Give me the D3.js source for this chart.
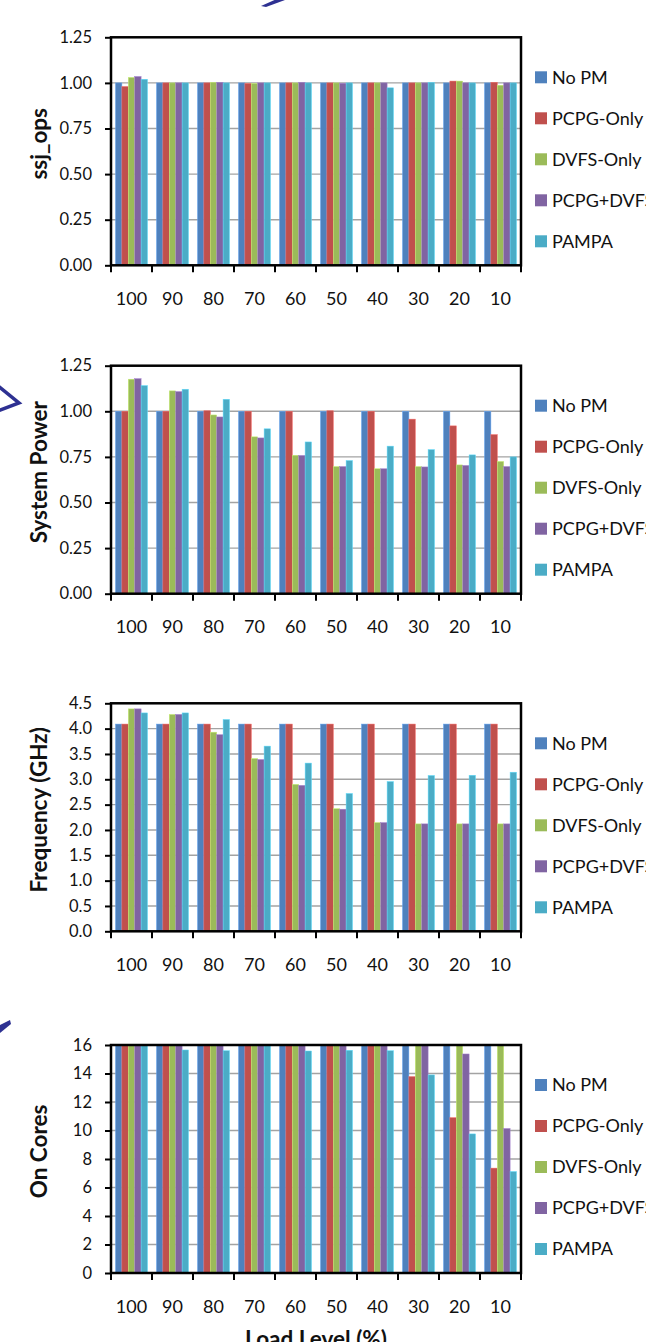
<!DOCTYPE html>
<html>
<head>
<meta charset="utf-8">
<script src="https://cdn.jsdelivr.net/npm/d3@7"></script>
<style>
  body { margin: 0; background: #fff; }
  svg { display: block; }
</style>
</head>
<body>
<div id="chart"></div>
<script>
// categories and series
var loadLevels = ["100", "90", "80", "70", "60", "50", "40", "30", "20", "10"];
var seriesNames = ["No PM", "PCPG-Only", "DVFS-Only", "PCPG+DVFS", "PAMPA"];
var seriesColors = ["#4F81BD", "#C0504D", "#9BBB59", "#8064A2", "#4BACC6"];

// one row per series, one column per load level
var ssjOps = [
	[1.00, 1.00, 1.00, 1.00, 1.00, 1.00, 1.00, 1.00, 1.00, 1.00],
	[0.98, 1.00, 1.00, 0.997, 1.00, 1.00, 1.00, 1.00, 1.01, 1.003],
	[1.03, 1.00, 1.003, 0.997, 1.00, 1.00, 1.00, 1.00, 1.01, 0.987],
	[1.035, 1.00, 1.003, 1.00, 1.003, 0.998, 1.00, 1.00, 1.00, 1.00],
	[1.02, 1.00, 1.00, 1.00, 1.00, 1.00, 0.973, 1.003, 1.00, 1.00]
];
var systemPower = [
	[1.00, 1.00, 1.00, 1.00, 1.00, 1.00, 1.00, 1.00, 1.00, 1.00],
	[1.00, 1.00, 1.003, 1.00, 1.00, 1.003, 1.00, 0.957, 0.92, 0.872],
	[1.176, 1.112, 0.98, 0.86, 0.759, 0.697, 0.685, 0.697, 0.706, 0.725],
	[1.179, 1.108, 0.969, 0.854, 0.758, 0.697, 0.685, 0.695, 0.703, 0.697],
	[1.141, 1.121, 1.066, 0.904, 0.832, 0.73, 0.809, 0.79, 0.761, 0.75]
];
var frequency = [
	[4.09, 4.09, 4.09, 4.09, 4.09, 4.09, 4.09, 4.09, 4.09, 4.09],
	[4.09, 4.09, 4.09, 4.09, 4.09, 4.09, 4.09, 4.09, 4.09, 4.09],
	[4.39, 4.28, 3.93, 3.41, 2.90, 2.42, 2.145, 2.12, 2.12, 2.12],
	[4.39, 4.28, 3.88, 3.39, 2.88, 2.41, 2.145, 2.12, 2.12, 2.12],
	[4.31, 4.31, 4.18, 3.655, 3.32, 2.72, 2.955, 3.075, 3.08, 3.14]
];
var onCores = [
	[16, 16, 16, 16, 16, 16, 16, 16, 16, 16],
	[16, 16, 16, 16, 16, 16, 16, 13.78, 10.9, 7.36],
	[16, 16, 16, 16, 16, 16, 16, 16, 16, 16],
	[16, 16, 16, 16, 16, 16, 16, 16, 15.37, 10.14],
	[16, 15.65, 15.6, 16, 15.58, 15.63, 15.6, 13.9, 9.76, 7.12]
];

var ssjTicks = [0, 0.25, 0.5, 0.75, 1.0, 1.25];
var powerTicks = [0, 0.25, 0.5, 0.75, 1.0, 1.25];
var freqTicks = [0, 0.5, 1.0, 1.5, 2.0, 2.5, 3.0, 3.5, 4.0, 4.5];
var coreTicks = [0, 2, 4, 6, 8, 10, 12, 14, 16];

var panels = [
	{ title: "ssj_ops", values: ssjOps, ticks: ssjTicks, fmt: ".2f", top: 37.3 },
	{ title: "System Power", values: systemPower, ticks: powerTicks, fmt: ".2f", top: 365.7 },
	{ title: "Frequency (GHz)", values: frequency, ticks: freqTicks, fmt: ".1f", top: 703.3 },
	{ title: "On Cores", values: onCores, ticks: coreTicks, fmt: "d", top: 1045 }
];

var W = 646, H = 1342;
var plotLeft = 111, plotRight = 521, plotH = 228;
var font = "Lato, 'Open Sans', sans-serif";

var svg = d3.select("#chart").append("svg")
	.attr("width", W).attr("height", H);

var x0 = d3.scaleBand().domain(loadLevels).range([plotLeft, plotRight]);
var x1 = d3.scaleBand().domain(seriesNames).range([0, x0.bandwidth()]).paddingOuter(0.7);

function drawPanel(p) {
	var top = p.top, bottom = p.top + plotH;
	var y = d3.scaleLinear().domain([0, d3.max(p.ticks)]).range([bottom, top]);
	var g = svg.append("g").attr("class", "panel");

	// grid
	g.append("g").selectAll("line")
		.data(p.ticks.filter(function(t) { return t > 0 && t < d3.max(p.ticks); }))
		.enter().append("line")
		.attr("x1", plotLeft).attr("x2", plotRight)
		.attr("y1", function(d) { return y(d); })
		.attr("y2", function(d) { return y(d); })
		.attr("stroke", "#a3a3a3").attr("stroke-width", 1.4);

	// bars
	var rows = [];
	p.values.forEach(function(vals, s) {
		vals.forEach(function(v, i) {
			rows.push({ level: loadLevels[i], series: seriesNames[s], s: s, value: v });
		});
	});
	g.append("g").selectAll("rect")
		.data(rows).enter().append("rect")
		.attr("x", function(d) { return x0(d.level) + x1(d.series); })
		.attr("y", function(d) { return y(d.value); })
		.attr("width", x1.bandwidth())
		.attr("height", function(d) { return y(0) - y(d.value); })
		.attr("fill", function(d) { return seriesColors[d.s]; })
		.attr("stroke", function(d) { return d3.color(seriesColors[d.s]).brighter(0.7); })
		.attr("stroke-width", 0.5);

	// frame
	g.append("rect")
		.attr("x", plotLeft).attr("y", top)
		.attr("width", plotRight - plotLeft).attr("height", plotH)
		.attr("fill", "none").attr("stroke", "#000").attr("stroke-width", 2.5);

	// y axis
	var yAxis = d3.axisLeft(y).tickValues(p.ticks).tickFormat(d3.format(p.fmt))
		.tickSize(6).tickPadding(13);
	var ya = g.append("g").attr("transform", "translate(" + plotLeft + ",0)").call(yAxis);
	ya.select(".domain").remove();
	ya.selectAll(".tick line").attr("stroke", "#000").attr("stroke-width", 2);
	ya.selectAll("text").attr("font-family", font).attr("font-size", "16.5px").attr("fill", "#111");

	// x axis
	var xAxis = d3.axisBottom(x0).tickSize(0).tickPadding(27);
	var xa = g.append("g").attr("transform", "translate(0," + bottom + ")").call(xAxis);
	xa.select(".domain").remove();
	xa.selectAll("text").attr("font-family", font).attr("font-size", "18px").attr("fill", "#111");
	xa.selectAll("line.sep")
		.data(x0.domain().map(function(d) { return x0(d); }).concat([plotRight]))
		.enter().append("line").attr("class", "sep")
		.attr("x1", function(d) { return d; }).attr("x2", function(d) { return d; })
		.attr("y1", 0).attr("y2", 7)
		.attr("stroke", "#000").attr("stroke-width", 2);

	// y title
	g.append("text")
		.attr("transform", "translate(46.5," + ((top + bottom) / 2 - 7.5) + ") rotate(-90)")
		.attr("text-anchor", "middle")
		.attr("font-family", font).attr("font-weight", "bold").attr("font-size", "22.5px")
		.attr("fill", "#111")
		.text(p.title);

	// legend
	var lg = g.append("g").selectAll("g")
		.data(seriesNames).enter().append("g")
		.attr("transform", function(d, i) { return "translate(535," + (top + 40 + i * 41) + ")"; });
	lg.append("rect")
		.attr("x", 0).attr("y", -6).attr("width", 12).attr("height", 12)
		.attr("fill", function(d, i) { return seriesColors[i]; });
	lg.append("text")
		.attr("x", 17).attr("y", 0).attr("dy", "0.35em")
		.attr("font-family", font).attr("font-size", "18px").attr("fill", "#111")
		.text(function(d) { return d; });
}

panels.forEach(drawPanel);

// x axis title, cut by the bottom edge
svg.append("text")
	.attr("x", (plotLeft + plotRight) / 2).attr("y", 1347)
	.attr("text-anchor", "middle")
	.attr("font-family", font).attr("font-weight", "bold").attr("font-size", "22.5px")
	.attr("fill", "#111")
	.text("Load Level (%)");

// pieces of hand-drawn arrows at the edges
var ink = "#2E3192";
svg.append("path").attr("d", "M261,6 L279,-2 L285,0 L266,7 Z").attr("fill", ink);
svg.append("path").attr("d", "M-2,386 L19,403 L-2,411")
	.attr("fill", "none").attr("stroke", ink).attr("stroke-width", 3.5);
svg.append("path").attr("d", "M-2,1026 L10,1020 L11,1024 L0,1033 Z").attr("fill", ink);
</script>
</body>
</html>
